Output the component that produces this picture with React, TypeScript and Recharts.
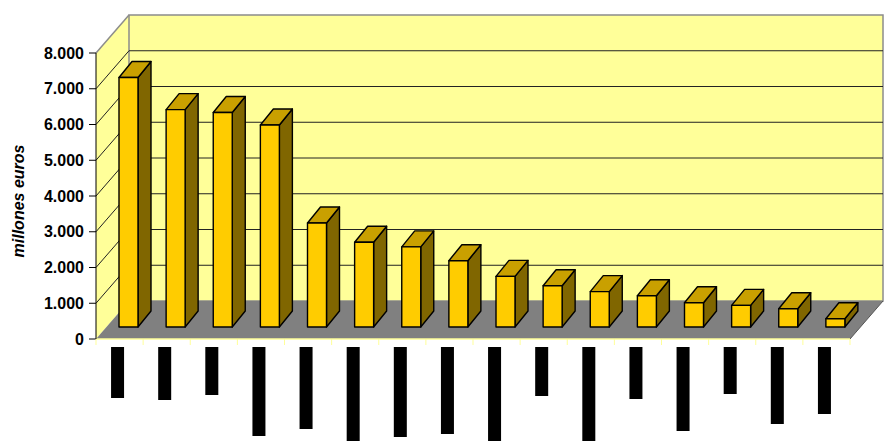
import React from 'react';
import { BarChart, Bar, XAxis, YAxis, CartesianGrid, ReferenceArea, Label } from 'recharts';

// ---------------------------------------------------------------------------
// Data
// ---------------------------------------------------------------------------

const CATEGORIES = [
  'Categoría 1', 'Categoría 2', 'Categoría 3', 'Categoría 4',
  'Categoría 5', 'Categoría 6', 'Categoría 7', 'Categoría 8',
  'Categoría 9', 'Categoría 10', 'Categoría 11', 'Categoría 12',
  'Categoría 13', 'Categoría 14', 'Categoría 15', 'Categoría 16',
];
const VALUES = [6980, 6080, 6000, 5650, 2910, 2370, 2240, 1855, 1415, 1155, 990, 875, 680, 605, 510, 230];
const Y_TICKS = [0, 1000, 2000, 3000, 4000, 5000, 6000, 7000, 8000];
const GRID_VALUES = [1000, 2000, 3000, 4000, 5000, 6000, 7000];
const Y_TITLE = 'millones euros';

// the category labels come out as solid black blocks in the original; their lengths
const LABEL_BLOCK = [51, 53, 48, 89, 82, 96, 90, 87, 96, 49, 96, 52, 84, 47, 77, 67];

const data = CATEGORIES.map((name, i) => ({ name, value: VALUES[i] }));

// ---------------------------------------------------------------------------
// Look
// ---------------------------------------------------------------------------

const W = 888;
const H = 441;
const MARGIN = { top: 53, right: 38, bottom: 2, left: 16 };
const Y_AXIS_W = 80;
const X_AXIS_H = 100;
const PLOT_W = W - MARGIN.left - Y_AXIS_W - MARGIN.right;

const DEPTH_X = 33; // back wall offset
const DEPTH_Y = -38;
const BAR_SHIFT_X = 9; // bars sit mid depth
const BAR_SHIFT_Y = -12;
const BAR_DX = 13;
const BAR_DY = -16;

const WALL = '#FFFF99';
const FLOOR = '#808080';
const EDGE = '#8c8c8c';
const FONT = '"Liberation Sans", Arial, sans-serif';

const pts = (arr: number[][]) => arr.map((p) => p.join(',')).join(' ');

function Walls(props: any) {
  const { x, y, width, height } = props;
  const b = y + height;
  return (
    <g>
      <polygon points={pts([[x, b], [x, y], [x + DEPTH_X, y + DEPTH_Y], [x + DEPTH_X, b + DEPTH_Y]])} fill={WALL} />
      <rect x={x + DEPTH_X} y={y + DEPTH_Y} width={width} height={height} fill={WALL} stroke={EDGE} strokeWidth={1.5} />
      <polyline points={pts([[x, y], [x + DEPTH_X, y + DEPTH_Y]])} fill="none" stroke={EDGE} strokeWidth={1.5} />
      <polygon
        points={pts([[x, b], [x + width, b], [x + width + DEPTH_X, b + DEPTH_Y], [x + DEPTH_X, b + DEPTH_Y]])}
        fill={FLOOR}
      />
      <line x1={x + width} y1={b} x2={x + width + DEPTH_X} y2={b + DEPTH_Y} stroke="#555" strokeWidth={1} />
    </g>
  );
}

function GridLine(props: any) {
  const { x1, y1, x2 } = props;
  return (
    <g key={props.key}>
      <line x1={x1} y1={y1} x2={x1 + DEPTH_X} y2={y1 + DEPTH_Y} stroke="#222" strokeWidth={1} />
      <line x1={x1 + DEPTH_X} y1={y1 + DEPTH_Y} x2={x2 + DEPTH_X} y2={y1 + DEPTH_Y} stroke="#222" strokeWidth={1} />
    </g>
  );
}

function Bar3D(props: any) {
  const { x, y, width, height } = props;
  if (width == null || height == null) return null;
  const fx = x + BAR_SHIFT_X;
  const fy = y + BAR_SHIFT_Y;
  return (
    <g stroke="#000" strokeWidth={1.4} strokeLinejoin="round">
      <polygon
        points={pts([[fx + width, fy], [fx + width + BAR_DX, fy + BAR_DY], [fx + width + BAR_DX, fy + height + BAR_DY], [fx + width, fy + height]])}
        fill="#806600"
      />
      <polygon
        points={pts([[fx, fy], [fx + BAR_DX, fy + BAR_DY], [fx + width + BAR_DX, fy + BAR_DY], [fx + width, fy]])}
        fill="#C9A000"
      />
      <rect x={fx} y={fy} width={width} height={height} fill="#FFCC00" />
    </g>
  );
}

function CategoryTick(props: any) {
  const { x, y, payload, index } = props;
  const half = PLOT_W / CATEGORIES.length / 2;
  const len = LABEL_BLOCK[index] ?? 50;
  return (
    <g>
      <line x1={x - half} y1={y} x2={x - half} y2={y + 6} stroke={WALL} />
      {index === CATEGORIES.length - 1 && <line x1={x + half} y1={y} x2={x + half} y2={y + 6} stroke={WALL} />}
      <rect x={x - 8.5} y={y + 8} width={13} height={len} fill="#000" />
      <text
        transform={`translate(${x - 2},${y + 10}) rotate(-90)`}
        textAnchor="end"
        dominantBaseline="central"
        fontSize={9}
        fontFamily={FONT}
        textLength={len - 4}
        lengthAdjust="spacingAndGlyphs"
        fill="#000"
      >
        {payload.value}
      </text>
    </g>
  );
}

function AxisTitle(props: any) {
  const vb = props.viewBox || { x: 16, y: 53, width: 80, height: 286 };
  const cx = vb.x + 2;
  const cy = vb.y + vb.height / 2 + 5;
  return (
    <text
      transform={`translate(${cx},${cy}) rotate(-90)`}
      textAnchor="middle"
      dominantBaseline="central"
      fontSize={16}
      fontWeight="bold"
      fontStyle="italic"
      fontFamily={FONT}
      fill="#000"
    >
      {Y_TITLE}
    </text>
  );
}

const fmt = (v: number) => String(v).replace(/\B(?=(\d{3})+(?!\d))/g, '.');

export default function App() {
  return (
    <div style={{ position: 'absolute', left: 0, top: 0, width: W, height: H, background: '#fff' }}>
      <BarChart width={W} height={H} data={data} margin={MARGIN} barSize={19}>
        <XAxis
          dataKey="name"
          height={X_AXIS_H}
          interval={0}
          axisLine={{ stroke: WALL, strokeWidth: 1.5 }}
          tickLine={false}
          tickSize={0}
          tickMargin={0}
          tick={<CategoryTick />}
        />
        <YAxis
          type="number"
          domain={[0, 8000]}
          ticks={Y_TICKS}
          interval={0}
          width={Y_AXIS_W}
          tickFormatter={fmt}
          tickSize={7}
          tickMargin={5}
          axisLine={{ stroke: '#000', strokeWidth: 1 }}
          tickLine={{ stroke: '#000' }}
          tick={{ fontSize: 16, fontWeight: 'bold', fill: '#000', fontFamily: FONT }}
        >
          <Label content={<AxisTitle />} />
        </YAxis>
        <ReferenceArea y1={0} y2={8000} shape={<Walls />} fill={WALL} fillOpacity={1} stroke="none" zIndex={-200} />
        <CartesianGrid vertical={false} horizontalValues={GRID_VALUES} horizontal={GridLine} />
        <Bar dataKey="value" shape={<Bar3D />} isAnimationActive={false} />
      </BarChart>
    </div>
  );
}
